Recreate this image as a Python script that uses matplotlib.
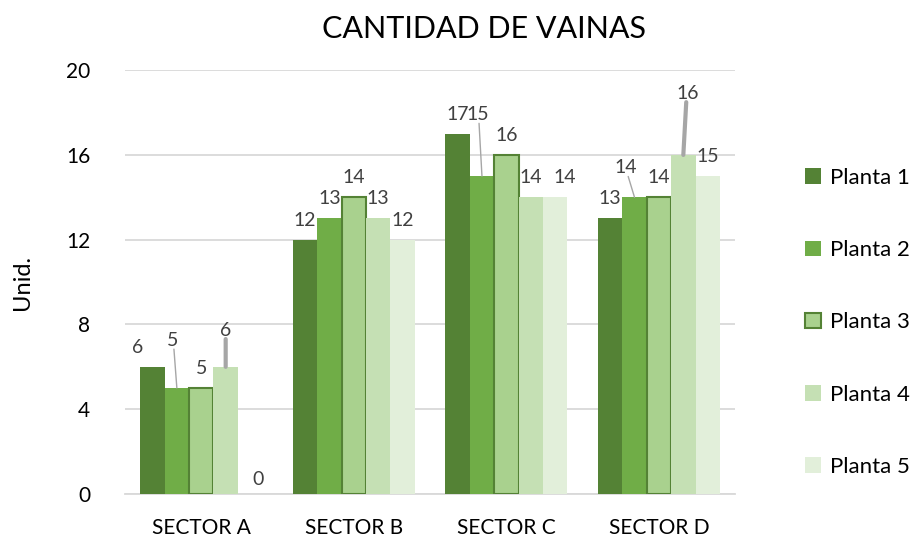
#!/usr/bin/env python3
# -*- coding: utf-8 -*-

import matplotlib
matplotlib.use("Agg")
import matplotlib.pyplot as plt
import numpy as np

plt.rcParams['font.family'] = ['Lato', 'DejaVu Sans']

# Datos del gráfico
sectores = ["SECTOR A", "SECTOR B", "SECTOR C", "SECTOR D"]
plantas = ["Planta 1", "Planta 2", "Planta 3", "Planta 4", "Planta 5"]
planta1 = [6, 12, 17, 13]
planta2 = [5, 13, 15, 14]
planta3 = [5, 14, 16, 14]
planta4 = [6, 13, 14, 16]
planta5 = [0, 12, 14, 15]
valores = [planta1, planta2, planta3, planta4, planta5]

colores = ["#548235", "#70AD47", "#A9D18E", "#C5E0B4", "#E2EFDA"]

# Desplazamiento de etiquetas (puntos) y si llevan línea guía
# clave: (serie, sector) -> (dx, dy, guia)
ajustes = {
    (0, 0): (-11, 0, False),
    (1, 0): (-3, 20, True),
    (3, 0): (0, 12, True),
    (4, 0): (6, -4, False),
    (1, 2): (-3, 30, True),
    (4, 2): (7, 0, False),
    (1, 3): (-6.5, 7, True),
    (3, 3): (3, 30, True),
}

fig = plt.figure(figsize=(9.19, 5.44), dpi=100)
ax = fig.add_axes([0.136, 0.092, 0.664, 0.779])

x = np.arange(len(sectores))
ancho = 0.16
for i, serie in enumerate(valores):
    pos = x + (i - 2) * ancho
    if i == 2:
        ax.bar(pos, serie, ancho, color=colores[i], edgecolor="#548235",
               linewidth=1.5, label=plantas[i], zorder=3)
    else:
        ax.bar(pos, serie, ancho, color=colores[i], label=plantas[i], zorder=3)
    for j, (px, v) in enumerate(zip(pos, serie)):
        dx, dy, guia = ajustes.get((i, j), (0, 0, False))
        ax.annotate(str(v), xy=(px, v), xytext=(dx, 8 + dy), textcoords="offset points",
                    ha="center", va="bottom", fontsize=14, color="#404040", zorder=5)
        if guia:
            lw = 3 if i == 3 else 1
            ax.annotate("", xy=(px, v), xytext=(dx * 0.7, dy + 8),
                        textcoords="offset points",
                        arrowprops=dict(arrowstyle="-", color="#A6A6A6", lw=lw,
                                        shrinkA=0, shrinkB=0), zorder=4)

ax.set_ylim(0, 20)
ax.set_xlim(-0.5, 3.5)
ax.set_yticks([0, 4, 8, 12, 16, 20])
ax.set_xticks(x)
ax.set_xticklabels(sectores)
ax.tick_params(axis="both", length=0, labelsize=15, colors="#000000")
ax.tick_params(axis="y", pad=25)
ax.tick_params(axis="x", pad=17)
ax.yaxis.grid(True, color="#D9D9D9", linewidth=1.3, zorder=0)
for lado in ["top", "right", "left"]:
    ax.spines[lado].set_visible(False)
ax.spines["bottom"].set_color("#D9D9D9")
ax.spines["bottom"].set_linewidth(1.3)

ax.set_ylabel("Unid.", fontsize=17, labelpad=24)
fig.suptitle("CANTIDAD DE VAINAS", x=0.527, y=0.972, fontsize=22)

ax.legend(loc="center left", bbox_to_anchor=(1.115, 0.405), frameon=False,
          fontsize=16, labelspacing=2.35, handlelength=0.7, handleheight=0.7,
          handletextpad=0.4, borderaxespad=0, borderpad=0)

fig.savefig("out.png", dpi=100)
